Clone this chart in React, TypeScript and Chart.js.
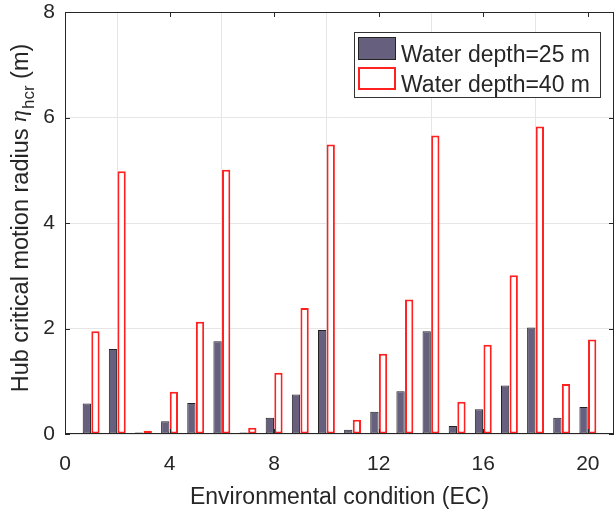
import { useEffect, useRef } from 'react';
import { Chart, registerables } from 'chart.js';

Chart.register(...registerables);

const ecConditions = [1, 2, 3, 4, 5, 6, 7, 8, 9, 10, 11, 12, 13, 14, 15, 16, 17, 18, 19, 20];
const depth25Values = [0.58, 1.61, 0.03, 0.24, 0.59, 1.76, 0.03, 0.31, 0.75, 1.97, 0.08, 0.42, 0.81, 1.95, 0.15, 0.47, 0.92, 2.02, 0.31, 0.51];
const depth40Values = [1.95, 4.98, 0.06, 0.8, 2.13, 5.01, 0.12, 1.16, 2.39, 5.49, 0.27, 1.52, 2.55, 5.66, 0.61, 1.69, 3.01, 5.83, 0.95, 1.79];
const seriesLabels = ['Water depth=25 m', 'Water depth=40 m'];
const xTickValues = [0, 4, 8, 12, 16, 20];
const yTickValues = [0, 2, 4, 6, 8];
const xAxisTitle = 'Environmental condition (EC)';
const yTitleMain = 'Hub critical motion radius ';
const yTitleSymbol = 'η';
const yTitleSub = 'hcr';
const yTitleUnit = ' (m)';

const FONT = "'Liberation Sans', Arial, Helvetica, sans-serif";
const TEXT = '#262626';

const boxPlugin = {
  id: 'matlabBox',
  afterDatasetsDraw(chart: any) {
    const { ctx, chartArea: a, scales } = chart;
    ctx.save();
    ctx.strokeStyle = TEXT;
    ctx.lineWidth = 1;
    ctx.strokeRect(a.left + 0.5, a.top + 0.5, a.right - a.left - 1, a.bottom - a.top - 1);
    const L = 5;
    ctx.beginPath();
    scales.x.ticks.forEach((t: any) => {
      const px = Math.round(scales.x.getPixelForValue(t.value)) + 0.5;
      ctx.moveTo(px, a.bottom);
      ctx.lineTo(px, a.bottom - L);
      ctx.moveTo(px, a.top);
      ctx.lineTo(px, a.top + L);
    });
    scales.y.ticks.forEach((t: any) => {
      const py = Math.round(scales.y.getPixelForValue(t.value)) + 0.5;
      ctx.moveTo(a.left, py);
      ctx.lineTo(a.left + L, py);
      ctx.moveTo(a.right, py);
      ctx.lineTo(a.right - L, py);
    });
    ctx.stroke();
    ctx.restore();
  },
};

const yTitlePlugin = {
  id: 'yTitleSub',
  afterDraw(chart: any) {
    const { ctx, chartArea: a } = chart;
    ctx.save();
    const mainFont = `23.5px ${FONT}`;
    const symFont = `italic 24px 'Liberation Serif', 'Times New Roman', serif`;
    const subFont = `17px ${FONT}`;
    ctx.font = mainFont;
    const w1 = ctx.measureText(yTitleMain).width;
    const w4 = ctx.measureText(yTitleUnit).width;
    ctx.font = symFont;
    const w2 = ctx.measureText(yTitleSymbol).width + 1;
    ctx.font = subFont;
    const w3 = ctx.measureText(yTitleSub).width;
    const total = w1 + w2 + w3 + w4;
    const cy = (a.top + a.bottom) / 2 - 5;
    ctx.translate(a.left - 37, cy);
    ctx.rotate(-Math.PI / 2);
    ctx.fillStyle = TEXT;
    ctx.textBaseline = 'alphabetic';
    ctx.textAlign = 'left';
    let x = -total / 2;
    ctx.font = mainFont;
    ctx.fillText(yTitleMain, x, 0);
    x += w1;
    ctx.font = symFont;
    ctx.fillText(yTitleSymbol, x, -2);
    x += w2;
    ctx.font = subFont;
    ctx.fillText(yTitleSub, x, 6);
    x += w3;
    ctx.font = mainFont;
    ctx.fillText(yTitleUnit, x, 0);
    ctx.restore();
  },
};

const legendPlugin = {
  id: 'boxLegend',
  afterDraw(chart: any) {
    const { ctx, chartArea: a } = chart;
    const datasets = chart.data.datasets;
    ctx.save();
    ctx.font = `23px ${FONT}`;
    const textW = Math.max(...datasets.map((d: any) => ctx.measureText(d.label).width));
    const padL = 4, swW = 38, swH = 23, gap = 5, padR = 10, padT = 5, padB = 7, rowH = 30;
    const w = Math.round(padL + swW + gap + textW + padR);
    const h = padT + rowH * (datasets.length - 1) + swH + padB;
    const right = a.right - 14;
    const left = Math.round(right - w);
    const top = a.top + 20;
    ctx.fillStyle = '#ffffff';
    ctx.fillRect(left, top, w, h);
    ctx.strokeStyle = '#333333';
    ctx.lineWidth = 1;
    ctx.strokeRect(left + 0.5, top + 0.5, w, h);
    datasets.forEach((d: any, i: number) => {
      const sx = left + padL;
      const sy = top + padT + i * rowH;
      const bw = d.borderWidth;
      ctx.fillStyle = d.backgroundColor;
      ctx.fillRect(sx, sy, swW, swH);
      ctx.strokeStyle = d.borderColor;
      ctx.lineWidth = bw;
      ctx.strokeRect(sx + bw / 2, sy + bw / 2, swW - bw, swH - bw);
      ctx.fillStyle = TEXT;
      ctx.textBaseline = 'alphabetic';
      ctx.fillText(d.label, sx + swW + gap, sy + swH + 2);
    });
    ctx.restore();
  },
};

export default function App() {
  const canvasRef = useRef<HTMLCanvasElement | null>(null);

  useEffect(() => {
    if (!canvasRef.current) return;
    const chart = new Chart(canvasRef.current, {
      type: 'bar',
      data: {
        datasets: [
          {
            label: seriesLabels[0],
            data: ecConditions.map((x, i) => ({ x, y: depth25Values[i] })),
            backgroundColor: '#675f7e',
            borderColor: '#222222',
            borderWidth: 1,
            borderSkipped: false,
            barPercentage: 0.96,
            categoryPercentage: 0.66,
          },
          {
            label: seriesLabels[1],
            data: ecConditions.map((x, i) => ({ x, y: depth40Values[i] })),
            backgroundColor: '#ffffff',
            borderColor: '#ff2020',
            borderWidth: 2,
            borderSkipped: false,
            barPercentage: 0.96,
            categoryPercentage: 0.66,
          },
        ],
      },
      options: {
        responsive: false,
        animation: false,
        layout: { padding: { top: 12, right: 1, left: 0, bottom: 0 } },
        plugins: {
          legend: { display: false },
          tooltip: { enabled: false },
        },
        scales: {
          x: {
            type: 'linear',
            min: 0,
            max: 21,
            offset: false,
            afterFit: (s: any) => { s.height = 81; s.paddingLeft = 0; s.paddingRight = 0; },
            afterBuildTicks: (s: any) => { s.ticks = xTickValues.map((v) => ({ value: v })); },
            ticks: { stepSize: 4, color: TEXT, font: { family: FONT, size: 21 }, padding: 18, maxRotation: 0 },
            grid: { color: '#e6e6e6', drawTicks: false },
            border: { display: false },
            title: { display: true, text: xAxisTitle, color: TEXT, font: { family: FONT, size: 23 }, padding: { top: 4, bottom: 4 } },
          },
          y: {
            min: 0,
            max: 8,
            afterFit: (s: any) => { s.width = 65; s.paddingTop = 0; s.paddingBottom = 0; },
            afterBuildTicks: (s: any) => { s.ticks = yTickValues.map((v) => ({ value: v })); },
            ticks: { stepSize: 2, color: TEXT, font: { family: FONT, size: 21 }, padding: 10 },
            grid: { color: '#e6e6e6', drawTicks: false },
            border: { display: false },
          },
        },
      },
      plugins: [boxPlugin, yTitlePlugin, legendPlugin],
    });
    return () => chart.destroy();
  }, []);

  return (
    <div style={{ position: 'absolute', left: 0, top: 0, width: 615, height: 515, background: '#ffffff' }}>
      <canvas ref={canvasRef} width={615} height={515} style={{ display: 'block' }} />
    </div>
  );
}
